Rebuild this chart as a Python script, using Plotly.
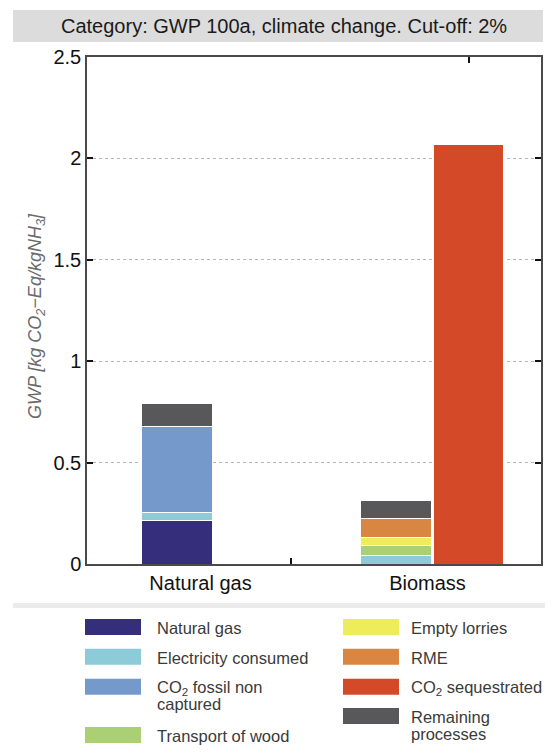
import plotly.graph_objects as go

# ---- data -------------------------------------------------------------
routes = ["Natural gas", "Biomass"]
contributors = [
    "Natural gas",
    "Electricity consumed",
    "CO<sub>2</sub> fossil non captured",
    "Transport of wood",
    "Empty lorries",
    "RME",
    "CO<sub>2</sub> sequestrated",
    "Remaining processes",
]
# how each key entry is wrapped
key_lines = [
    ["Natural gas"],
    ["Electricity consumed"],
    ["CO<sub>2</sub> fossil non", "captured"],
    ["Transport of wood"],
    ["Empty lorries"],
    ["RME"],
    ["CO<sub>2</sub> sequestrated"],
    ["Remaining", "processes"],
]
colors = ["#342e7b", "#8ecbd9", "#7699cc", "#abd073",
          "#eded5b", "#d88642", "#d44a28", "#58585a"]
# GWP contributions, kg CO2-Eq / kg NH3
natural_gas_route = [0.215, 0.037, 0.425, 0.0, 0.0, 0.0, 0.0, 0.115]
biomass_route = [0.0, 0.041, 0.0, 0.051, 0.038, 0.092, 2.068, 0.092]
y_ticks = [0, 0.5, 1, 1.5, 2, 2.5]

# ---- geometry ----------------------------------------------------------
W, H = 555, 755
L, R, T, B = 87, 14, 57, 191
plot_w, plot_h = W - L - R, H - T - B
group_x = [1.0, 2.0]
bar_w = 0.324
seq_x = group_x[1] + 0.329           # sequestration bar beside the biomass stack
x_range = [0.587, 2.66]
sep_tick = 1.52
label_x = [x_range[0] + (x_range[1] - x_range[0]) * f for f in (0.25, 0.75)]


def px_x(p):
    return (p - L) / plot_w


def px_y(p):
    return (H - B - p) / plot_h


FONT = "Liberation Sans, Arial, sans-serif"
fig = go.Figure()

SEQ = 6
for i, name in enumerate(contributors):
    if i == SEQ:
        continue
    xs, ys = [], []
    for gx, v in zip(group_x, (natural_gas_route[i], biomass_route[i])):
        if v > 0:
            xs.append(gx)
            ys.append(v)
    fig.add_trace(go.Bar(
        x=xs, y=ys, width=bar_w, name=name,
        marker=dict(color=colors[i], line=dict(color="white", width=1)),
        showlegend=False,
    ))

fig.add_trace(go.Bar(
    x=[seq_x], y=[biomass_route[SEQ]], width=bar_w, xaxis="x2",
    name=contributors[SEQ],
    marker=dict(color=colors[SEQ], line=dict(color="white", width=1)),
    showlegend=False,
))

axis_line = "#4a4a4a"
fig.update_layout(
    width=W, height=H,
    margin=dict(l=L, r=R, t=T, b=B),
    paper_bgcolor="white", plot_bgcolor="white",
    barmode="stack",
    font=dict(family=FONT, size=20, color="#111"),
    xaxis=dict(
        range=x_range, tickvals=label_x, ticktext=routes, ticks="",
        showline=True, linecolor=axis_line, linewidth=1.5, mirror=True,
        showgrid=False, zeroline=False,
        tickfont=dict(size=20, color="#111"),
        minor=dict(tickvals=[sep_tick], ticks="inside", ticklen=6,
                   tickwidth=2, tickcolor="#111", showgrid=False),
    ),
    xaxis2=dict(
        range=x_range, overlaying="x", side="top", anchor="y",
        tickvals=[seq_x], ticks="inside", ticklen=6, tickwidth=2,
        tickcolor="#111", showticklabels=False, showline=False,
        showgrid=False, zeroline=False,
    ),
    yaxis=dict(
        range=[0, 2.5], tickvals=y_ticks, ticks="inside", ticklen=6,
        tickwidth=2, tickcolor="#111", showline=True, linecolor=axis_line,
        linewidth=1.5, mirror="ticks", zeroline=False,
        showgrid=True, gridcolor="#b5b5b5", gridwidth=1, griddash="dot",
        tickfont=dict(size=20, color="#111"),
    ),
)

shapes = []
annotations = []

# header band
shapes.append(dict(type="rect", xref="paper", yref="paper",
                   x0=px_x(13), x1=px_x(543), y0=px_y(42), y1=px_y(10),
                   fillcolor="#dcdcdc", line=dict(width=0), layer="below"))
annotations.append(dict(xref="paper", yref="paper", x=px_x(284), y=px_y(26),
                        text="Category: GWP 100a, climate change. Cut-off: 2%",
                        showarrow=False, xanchor="center", yanchor="middle",
                        font=dict(size=20, color="#1a1a1a")))

# y-axis title
annotations.append(dict(xref="paper", yref="paper", x=px_x(36), y=px_y(316),
                        text="<i>GWP [kg CO<sub>2</sub>\u2212Eq/kgNH<sub>3</sub>]</i>",
                        textangle=-90, showarrow=False,
                        xanchor="center", yanchor="middle",
                        font=dict(size=18, color="#6a6a6a")))

# separator above the key
shapes.append(dict(type="rect", xref="paper", yref="paper",
                   x0=px_x(13), x1=px_x(545), y0=px_y(608), y1=px_y(603),
                   fillcolor="#ebebeb", line=dict(width=0)))

# key: two columns, swatch centre rows in pixels
key_cols = [(85, 156), (343, 410)]
key_rows = [[0, 1, 2, 3], [4, 5, 6, 7]]
row_y = [[627, 656.7, 686.7, 735], [627, 656.7, 686.7, 716]]
line_step = 16.5
for c, (sx, tx) in enumerate(key_cols):
    for r, idx in enumerate(key_rows[c]):
        cy = row_y[c][r]
        shapes.append(dict(type="rect", xref="paper", yref="paper",
                           x0=px_x(sx), x1=px_x(sx + 56),
                           y0=px_y(cy + 8), y1=px_y(cy - 8),
                           fillcolor=colors[idx], line=dict(width=0)))
        for k, line in enumerate(key_lines[idx]):
            annotations.append(dict(xref="paper", yref="paper",
                                    x=px_x(tx - 1), y=px_y(cy + 1 + k * line_step),
                                    text=line, showarrow=False,
                                    xanchor="left", yanchor="middle",
                                    font=dict(size=16.5, color="#3a3a3a")))

fig.update_layout(shapes=shapes, annotations=annotations)
fig.write_html("out.html")
